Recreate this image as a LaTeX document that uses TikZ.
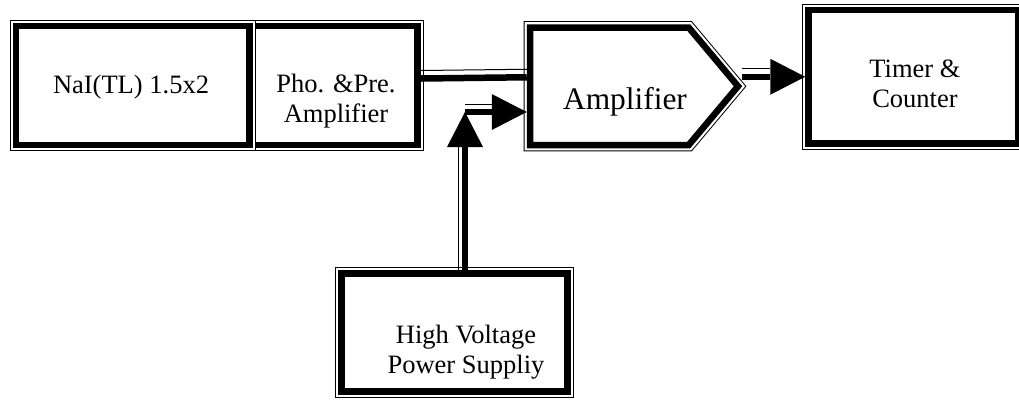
\documentclass[tikz,border=0pt]{standalone}
\usepackage{fontspec}
\setmainfont{Liberation Serif}
\usetikzlibrary{arrows.meta, shapes.symbols}

\tikzset{
  dbox/.style={draw, line width=3.25pt, fill=white, inner sep=0pt,
    preaction={draw, line width=6.45pt},
    preaction={draw, white, line width=5.45pt}},
  lbl/.style={inner sep=0pt, align=center, font=\fontsize{13.25}{15}\selectfont},
  wire/.style={line width=3.25pt},
  railN/.style={postaction={draw, -, line width=0.5pt, shorten >=#1, transform canvas={yshift=4pt}}},
  railN/.default=0pt,
  railW/.style={postaction={draw, -, line width=0.5pt, shorten >=#1, transform canvas={xshift=-3.25pt}}},
  railW/.default=0pt,
  bighead/.tip={Triangle[length=17.5pt, width=18pt, line width=0pt]}
}

\begin{document}
\begin{tikzpicture}[x=0.5pt, y=-0.5pt]
  \useasboundingbox (0,0) rectangle (1019,403);

  % boxes
  \node[dbox, minimum width=83.75pt, minimum height=59.5pt] (pho) at (333.75,85.5) {};
  \node[dbox, minimum width=116.75pt, minimum height=59.5pt] (nai) at (132.75,85.5) {};
  \node[dbox, signal, signal to=east, signal pointer angle=100, anchor=west,
        minimum width=104pt, minimum height=58.75pt] (amp) at (526.75,86.25) {};
  \node[dbox, minimum width=104.75pt, minimum height=66.75pt] (timer) at (913.25,76.75) {};
  \node[dbox, minimum width=113pt, minimum height=59pt] (hv) at (454.5,332.5) {};

  % texts
  \node[lbl] (naiT) at (131,87) {NaI(TL) 1.5x2};
  \node[lbl] (phoT) at (336,101) {Pho. \&Pre.\\Amplifier};
  \node[lbl, font=\fontsize{15.7}{18}\selectfont] (ampT) at (625,102) {Amplifier};
  \node[lbl] (timerT) at (915,84) {Timer \&\\Counter};
  \node[lbl] (hvT) at (466,352) {High Voltage\\Power Suppliy};

  % connectors
  \coordinate (bend) at (465,112);
  \draw[wire, railN] ([yshift=3.5pt]pho.east) -- ([yshift=4.5pt]amp.west);
  \draw[wire, railN=17.5pt, -{bighead}] (amp.east |- timer.west) -- (timer.west);
  \draw[wire, railW=17.5pt, -{bighead}] (hv.north -| bend) -- (bend);
  \draw[wire, railN=17.5pt, -{bighead}] (bend) -- (amp.west |- bend);
\end{tikzpicture}
\end{document}
